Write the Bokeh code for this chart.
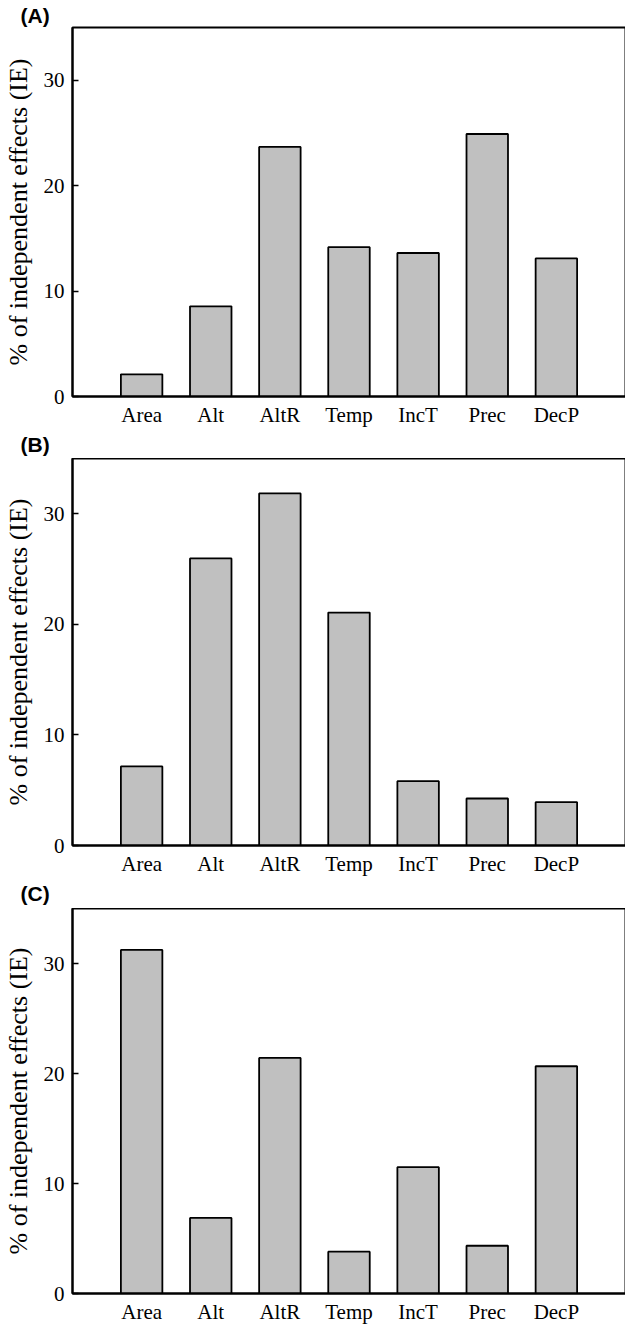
from bokeh.plotting import figure
from bokeh.layouts import column
from bokeh.models import Range1d, FixedTicker, Title, ColumnDataSource
from bokeh.embed import file_html
from bokeh.resources import INLINE

categories = ["Area", "Alt", "AltR", "Temp", "IncT", "Prec", "DecP"]
values_a = [2.1, 8.55, 23.67, 14.16, 13.61, 24.9, 13.1]
values_b = [7.15, 25.96, 31.84, 21.07, 5.82, 4.25, 3.92]
values_c = [31.23, 6.87, 21.42, 3.80, 11.48, 4.34, 20.66]
panel_labels = ["(A)", "(B)", "(C)"]
y_ticks = [0, 10, 20, 30]
y_title = "% of independent effects (IE)"

SERIF = "Liberation Serif"
SANS = "Liberation Sans"


def panel_title(text):
    return Title(text=text, align="left", offset=-52, standoff=2,
                 text_font=SANS, text_font_style="bold",
                 text_font_size="21px", text_color="black")


def make_panel(vals, frame_h, top_b, bottom_b):
    xs = list(range(1, len(categories) + 1))
    src = ColumnDataSource(dict(x=xs, top=vals, name=categories))
    p = figure(frame_width=553, frame_height=frame_h,
               x_range=Range1d(0, len(categories) + 1), y_range=Range1d(0, 35),
               output_backend="svg", toolbar_location=None,
               min_border_left=70, min_border_right=2, min_border_top=top_b,
               min_border_bottom=bottom_b)
    p.vbar(x="x", top="top", bottom=0, width=0.6, source=src,
           fill_color="#c0c0c0", line_color="black", line_width=1.8)
    p.grid.visible = False
    p.background_fill_color = "white"
    p.border_fill_color = "white"
    p.outline_line_color = "black"
    p.outline_line_width = 2

    ya = p.yaxis[0]
    ya.ticker = FixedTicker(ticks=y_ticks)
    ya.major_tick_in = 6
    ya.major_tick_out = 0
    ya.minor_tick_line_color = None
    ya.axis_line_width = 2
    ya.axis_line_color = "black"
    ya.major_tick_line_width = 1.5
    ya.major_label_text_font = SERIF
    ya.major_label_text_font_size = "21px"
    ya.major_label_text_color = "black"
    ya.major_label_standoff = 8
    ya.axis_label = y_title
    ya.axis_label_text_font = SERIF
    ya.axis_label_text_font_style = "normal"
    ya.axis_label_text_font_size = "26px"
    ya.axis_label_text_color = "black"
    ya.axis_label_standoff = 8

    xa = p.xaxis[0]
    xa.ticker = FixedTicker(ticks=xs)
    xa.major_label_overrides = {x: c for x, c in zip(xs, categories)}
    xa.major_tick_in = 0
    xa.major_tick_out = 0
    xa.minor_tick_line_color = None
    xa.axis_line_width = 2
    xa.axis_line_color = "black"
    xa.major_label_text_font = SERIF
    xa.major_label_text_font_size = "21px"
    xa.major_label_text_color = "black"
    xa.major_label_standoff = 6
    return p


pa = make_panel(values_a, 369, 0, 62)
pb = make_panel(values_b, 387, 0, 63)
pc = make_panel(values_c, 385, 0, 28)

# panel letters: (A) above panel A, (B) and (C) at the foot of the panel above them
pa.add_layout(panel_title(panel_labels[0]), "above")
pa.add_layout(panel_title(panel_labels[1]), "below")
pb.add_layout(panel_title(panel_labels[2]), "below")

layout = column(pa, pb, pc, spacing=0)

open("out.html", "w").write(file_html(layout, INLINE))
